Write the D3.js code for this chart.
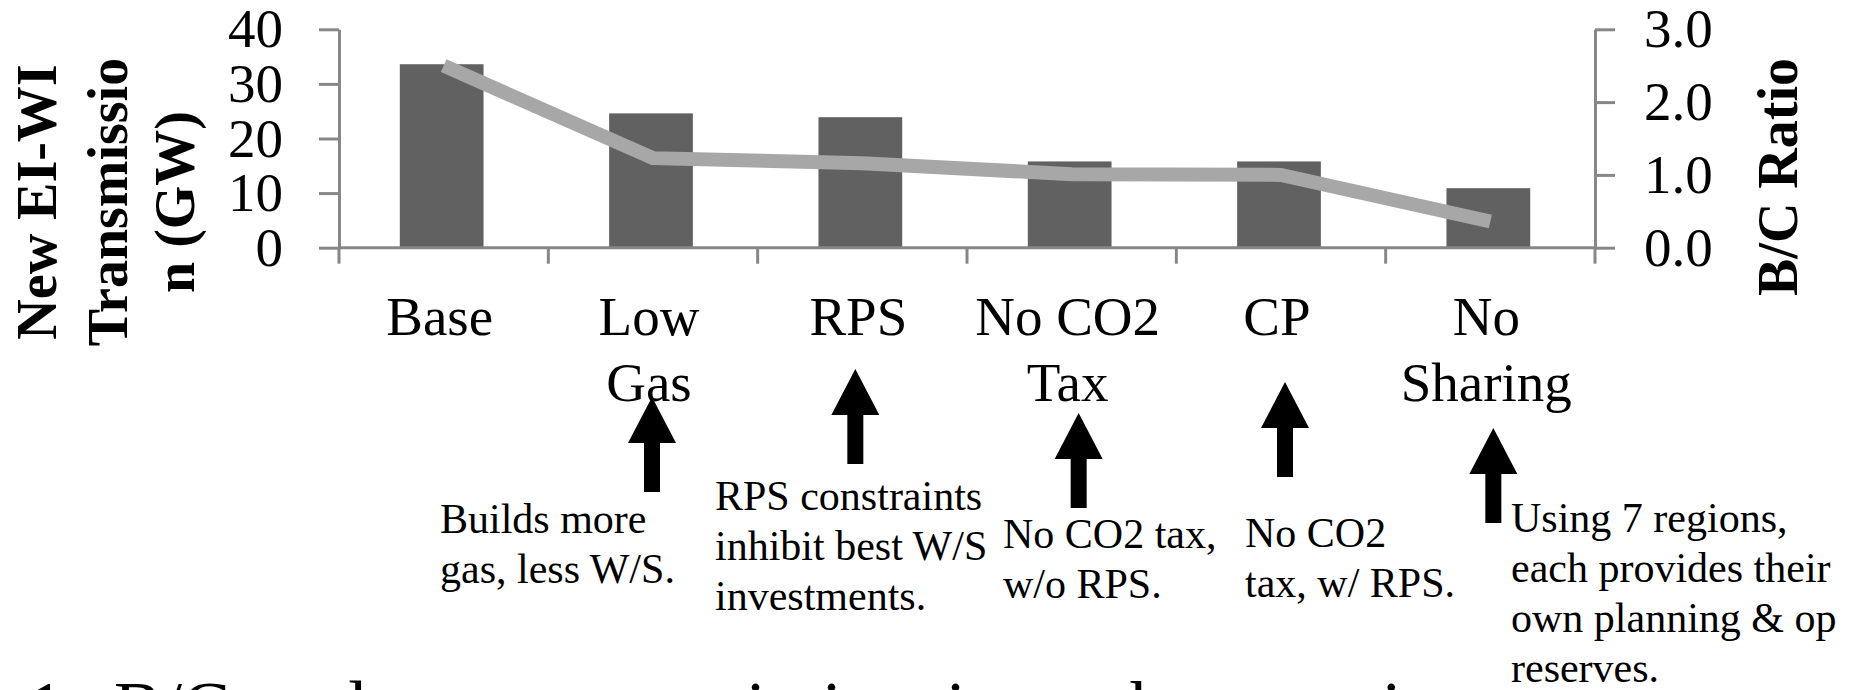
<!DOCTYPE html>
<html>
<head>
<meta charset="utf-8">
<script src="https://cdn.jsdelivr.net/npm/d3@7"></script>
<style>
  html, body { margin: 0; padding: 0; background: #fff; overflow: hidden; }
  text { font-family: "Liberation Serif", "Times New Roman", serif; }
</style>
</head>
<body>
<svg width="1852" height="690"></svg>
<script>
// data
var categories = ["Base", "Low Gas", "RPS", "No CO2 Tax", "CP", "No Sharing"];
var labelLines = [["Base"], ["Low", "Gas"], ["RPS"], ["No CO2", "Tax"], ["CP"], ["No", "Sharing"]];
var transmissionGW = [33.6, 24.6, 23.9, 15.8, 15.8, 10.9];
var bcRatio = [2.5, 1.23, 1.16, 1.01, 1.0, 0.36];
var leftTicks = [0, 10, 20, 30, 40];
var rightTicks = [0, 1, 2, 3];
var noteLines = [
    ["Builds more", "gas, less W/S."],
    ["RPS constraints", "inhibit best W/S", "investments."],
    ["No CO2 tax,", "w/o RPS."],
    ["No CO2", "tax, w/ RPS."],
    ["Using 7 regions,", "each provides their", "own planning & op", "reserves."]
];
var noteCats = ["Low Gas", "RPS", "No CO2 Tax", "CP", "No Sharing"];
var captionText = "1.  B/C and new transmission in each scenario.";

var svg = d3.select("svg");
var axisColor = "#878787";

// plot area (names chosen so they don't clash with window.top)
var plotL = 339, plotR = 1595, plotT = 29.3, plotB = 247.7;

var x = d3.scaleBand().domain(categories).range([plotL, plotR]).padding(0);
var yL = d3.scaleLinear().domain([0, 40]).range([plotB, plotT]);
var yR = d3.scaleLinear().domain([0, 3]).range([plotB, plotT]);
var cx = function (c) { return x(c) + x.bandwidth() / 2; };

// bars
var barW = x.bandwidth() * 0.4;
svg.append("g").selectAll("rect")
    .data(categories)
    .enter().append("rect")
    .attr("x", function (d) { return cx(d) - barW / 2 - 2; })
    .attr("y", function (d, i) { return yL(transmissionGW[i]); })
    .attr("width", barW)
    .attr("height", function (d, i) { return plotB - yL(transmissionGW[i]); })
    .attr("fill", "#616161");

// B/C line
var line = d3.line()
    .x(function (d, i) { return cx(categories[i]); })
    .y(function (d) { return yR(d); });
svg.append("path")
    .datum(bcRatio)
    .attr("d", line)
    .attr("fill", "none")
    .attr("stroke", "#a7a7a7")
    .attr("stroke-width", 14)
    .attr("stroke-linejoin", "miter");

// left axis
var gL = svg.append("g")
    .attr("transform", "translate(" + plotL + ",0)")
    .call(d3.axisLeft(yL).tickValues(leftTicks).tickSize(20).tickSizeOuter(0).tickPadding(36));
// right axis
var gR = svg.append("g")
    .attr("transform", "translate(" + plotR + ",0)")
    .call(d3.axisRight(yR).tickValues(rightTicks).tickSize(20).tickSizeOuter(0).tickPadding(29)
        .tickFormat(d3.format(".1f")));

[gL, gR].forEach(function (g) {
    g.select(".domain").attr("stroke", axisColor).attr("stroke-width", 3);
    g.selectAll(".tick line").attr("stroke", axisColor).attr("stroke-width", 3);
    g.selectAll(".tick text")
        .attr("fill", "#000")
        .style("font-family", "Liberation Serif")
        .style("font-size", "55px");
});

// x axis with ticks on the category borders
svg.append("line")
    .attr("x1", plotL).attr("x2", plotR)
    .attr("y1", plotB).attr("y2", plotB)
    .attr("stroke", axisColor).attr("stroke-width", 3);
var borders = categories.map(function (c) { return x(c); }).concat([plotR]);
svg.append("g").selectAll("line")
    .data(borders)
    .enter().append("line")
    .attr("x1", function (d) { return d; }).attr("x2", function (d) { return d; })
    .attr("y1", plotB).attr("y2", plotB + 16)
    .attr("stroke", axisColor).attr("stroke-width", 3);

// category labels
var catLabels = svg.append("g").selectAll("text")
    .data(categories)
    .enter().append("text")
    .attr("text-anchor", "middle")
    .style("font-size", "55px")
    .attr("fill", "#000");
catLabels.selectAll("tspan")
    .data(function (d, i) { return labelLines[i].map(function (t) { return { t: t, c: d }; }); })
    .enter().append("tspan")
    .attr("x", function (d) { return cx(d.c) - 4; })
    .attr("y", function (d, j) { return 335 + j * 66; })
    .text(function (d) { return d.t; });

// axis titles
var titleL = svg.append("text")
    .attr("transform", "translate(0,202) rotate(-90)")
    .attr("text-anchor", "middle")
    .style("font-size", "56px")
    .style("font-weight", "bold");
titleL.selectAll("tspan")
    .data(["New EI-WI", "Transmissio", "n (GW)"])
    .enter().append("tspan")
    .attr("x", 0)
    .attr("y", function (d, i) { return [56, 127, 194][i]; })
    .text(function (d) { return d; });

svg.append("text")
    .attr("transform", "translate(0,177) rotate(-90)")
    .attr("text-anchor", "middle")
    .attr("x", 0).attr("y", 1797)
    .style("font-size", "56px")
    .style("font-weight", "bold")
    .text("B/C Ratio");

// arrows pointing at the scenarios
var arrowTip = [397, 369, 413, 382, 428];
var arrowDx = [-1, -7, 7, 4, 3];
var arrowPath = function (c, i) {
    var ax = cx(c) + arrowDx[i], t = arrowTip[i], b = t + 46, e = b + 49;
    return "M" + ax + "," + t + "L" + (ax + 24) + "," + b + "L" + (ax + 8) + "," + b +
        "L" + (ax + 8) + "," + e + "L" + (ax - 8) + "," + e + "L" + (ax - 8) + "," + b +
        "L" + (ax - 24) + "," + b + "Z";
};
svg.append("g").selectAll("path")
    .data(noteCats)
    .enter().append("path")
    .attr("d", arrowPath)
    .attr("fill", "#000");

// notes under the arrows
var noteX = [440, 715, 1003, 1245, 1511];
var noteY = [533, 510, 548, 547, 532];
var notes = svg.append("g").selectAll("text")
    .data(noteLines)
    .enter().append("text")
    .style("font-size", "42px")
    .attr("fill", "#000");
notes.selectAll("tspan")
    .data(function (d, i) { return d.map(function (t) { return { t: t, i: i }; }); })
    .enter().append("tspan")
    .attr("x", function (d) { return noteX[d.i]; })
    .attr("y", function (d, j) { return noteY[d.i] + j * 50; })
    .text(function (d) { return d.t; });

// caption, cut by the bottom edge
svg.append("text")
    .attr("x", 28).attr("y", 731)
    .style("font-size", "72px")
    .style("word-spacing", "14px")
    .attr("fill", "#000")
    .text(captionText);
</script>
</body>
</html>
